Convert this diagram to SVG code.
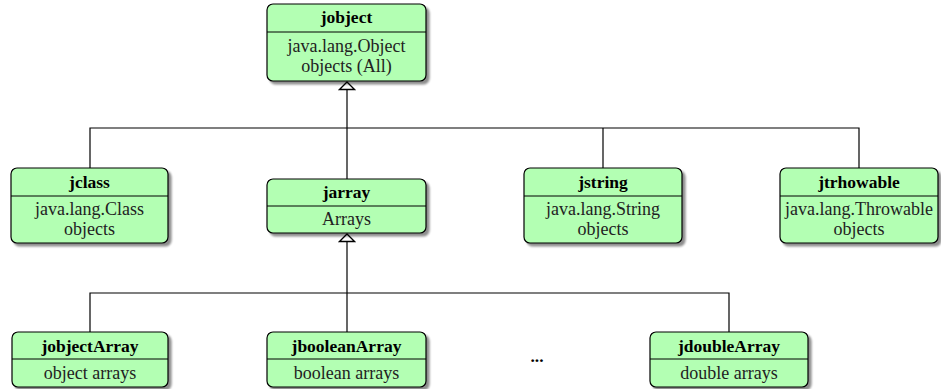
<svg xmlns="http://www.w3.org/2000/svg" width="941" height="389" viewBox="0 0 941 389">
  <style>
    .box { fill: #b3ffb3; stroke: #000; stroke-width: 1.2; filter: url(#shadow); }
    .div { stroke: #000; stroke-width: 1; }
    .title { font-family: "Liberation Serif", "DejaVu Serif", serif; font-weight: bold; font-size: 17.5px; text-anchor: middle; fill: #000; }
    .body { font-family: "Liberation Serif", "DejaVu Serif", serif; font-size: 18px; text-anchor: middle; fill: #222; }
    .wire { stroke: #000; stroke-width: 1.2; fill: none; }
  </style>
  <defs>
    <filter id="shadow" x="-10%" y="-10%" width="125%" height="135%">
      <feGaussianBlur in="SourceAlpha" stdDeviation="1.2"/>
      <feOffset dx="2.5" dy="2.5" result="off"/>
      <feComponentTransfer><feFuncA type="linear" slope="0.45"/></feComponentTransfer>
      <feMerge><feMergeNode/><feMergeNode in="SourceGraphic"/></feMerge>
    </filter>
    <marker id="inherit" markerWidth="10" markerHeight="18" refX="8.5" refY="9" orient="auto" markerUnits="userSpaceOnUse">
      <path d="M1,1.5 L8.5,9 L1,16.5 Z" fill="#fff" stroke="#000" stroke-width="1.3"/>
    </marker>
  </defs>

  <!-- connectors -->
  <g id="connectors">
    <path class="wire" d="M90,168 V128 H859 V168"/>
    <path class="wire" d="M603,168 V128"/>
    <path class="wire" d="M347,179 V128"/>
    <path class="wire" d="M347,128 V82" marker-end="url(#inherit)"/>
    <path class="wire" d="M90,332 V293 H729 V332"/>
    <path class="wire" d="M347,332 V293"/>
    <path class="wire" d="M347,293 V234" marker-end="url(#inherit)"/>
  </g>

  <g id="jobject">
    <rect class="box" x="267" y="4" width="159" height="77" rx="6"/>
    <line class="div" x1="267" y1="32" x2="426" y2="32"/>
    <text class="title" x="346.5" y="23">jobject</text>
    <text class="body" x="346.5" y="52">java.lang.Object</text>
    <text class="body" x="346.5" y="72">objects (All)</text>
  </g>

  <g id="jclass">
    <rect class="box" x="11" y="168" width="157" height="75" rx="6"/>
    <line class="div" x1="11" y1="196" x2="168" y2="196"/>
    <text class="title" x="89.5" y="188">jclass</text>
    <text class="body" x="89.5" y="215">java.lang.Class</text>
    <text class="body" x="89.5" y="235">objects</text>
  </g>

  <g id="jarray">
    <rect class="box" x="267" y="179" width="159" height="54" rx="6"/>
    <line class="div" x1="267" y1="206" x2="426" y2="206"/>
    <text class="title" x="346.5" y="198">jarray</text>
    <text class="body" x="346.5" y="225">Arrays</text>
  </g>

  <g id="jstring">
    <rect class="box" x="524" y="168" width="158" height="75" rx="6"/>
    <line class="div" x1="524" y1="196" x2="682" y2="196"/>
    <text class="title" x="603" y="188">jstring</text>
    <text class="body" x="603" y="215">java.lang.String</text>
    <text class="body" x="603" y="235">objects</text>
  </g>

  <g id="jtrhowable">
    <rect class="box" x="780" y="168" width="158" height="75" rx="6"/>
    <line class="div" x1="780" y1="196" x2="938" y2="196"/>
    <text class="title" x="859" y="188">jtrhowable</text>
    <text class="body" x="859" y="215">java.lang.Throwable</text>
    <text class="body" x="859" y="235">objects</text>
  </g>

  <g id="jobjectArray">
    <rect class="box" x="12" y="332" width="156" height="55" rx="6"/>
    <line class="div" x1="12" y1="359" x2="168" y2="359"/>
    <text class="title" x="90" y="352">jobjectArray</text>
    <text class="body" x="90" y="379">object arrays</text>
  </g>

  <g id="jbooleanArray">
    <rect class="box" x="267" y="332" width="159" height="55" rx="6"/>
    <line class="div" x1="267" y1="359" x2="426" y2="359"/>
    <text class="title" x="346.5" y="352">jbooleanArray</text>
    <text class="body" x="346.5" y="379">boolean arrays</text>
  </g>

  <g id="ellipsis">
    <text class="title" x="537" y="362">...</text>
  </g>

  <g id="jdoubleArray">
    <rect class="box" x="650" y="332" width="158" height="55" rx="6"/>
    <line class="div" x1="650" y1="359" x2="808" y2="359"/>
    <text class="title" x="729" y="352">jdoubleArray</text>
    <text class="body" x="729" y="379">double arrays</text>
  </g>
</svg>
